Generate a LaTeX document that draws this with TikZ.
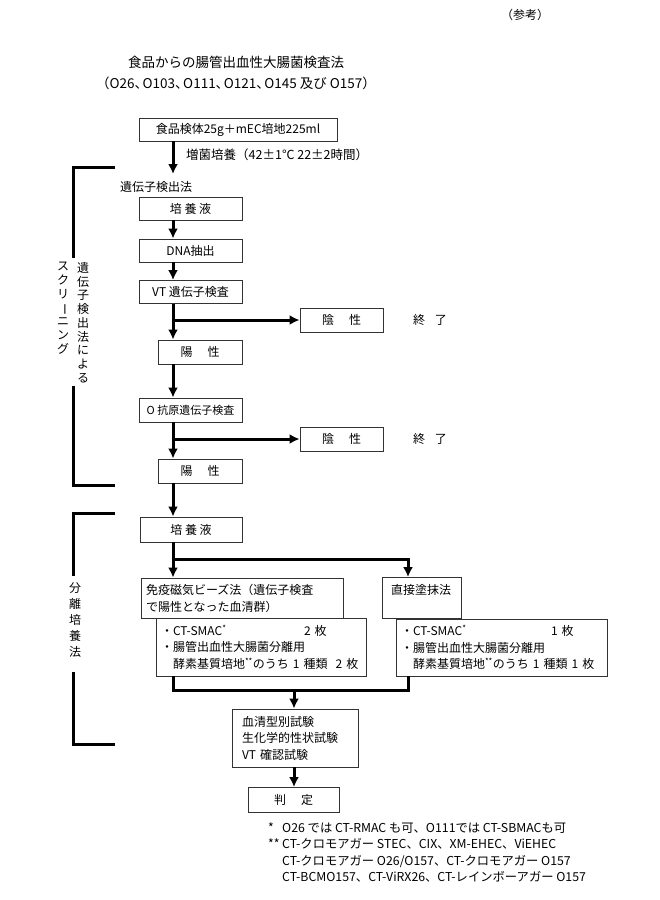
\documentclass[tikz,border=0pt]{standalone}
\usepackage{fontspec}
\setmainfont{Noto Sans CJK JP}
\usetikzlibrary{arrows.meta}

\begin{document}
\begin{tikzpicture}[x=1pt,y=-1pt,>={Latex[length=10pt,width=10pt]},
  box/.style={draw=black!80,line width=0.9pt,inner sep=0pt,font=\fontsize{12}{14}\selectfont},
  txt/.style={inner sep=0pt,font=\fontsize{12}{14}\selectfont},
  vtxt/.style={inner sep=0pt,anchor=north,align=center},
  flow/.style={line width=3pt},
  brk/.style={line width=3pt}]
\path[fill=white] (0,0) rectangle (660,900);
\node[txt] (ref) at (525,15) {（参考）};
\node[txt,align=center,font=\fontsize{13.5}{21}\selectfont] (title) at (236,73) {食品からの腸管出血性大腸菌検査法\\（O26、\kern-.4em O103、\kern-.4em O111、\kern-.4em O121、\kern-.4em O145 及び O157）};
\node[box,minimum width=198pt,minimum height=23pt] (food) at (238,129.5) {食品検体25g＋mEC培地225ml};
\coordinate (spine) at (173,174);
\draw[flow,->] (food.south -| spine) -- (spine);
\node[txt,anchor=west,font=\fontsize{12.5}{14}\selectfont] (incub) at (186,155) {増菌培養（42±1℃ 22±2時間）};
\node[txt,anchor=west] (gdet) at (120,187) {遺伝子検出法};
\node[box,minimum width=103pt,minimum height=23pt] (cult1) at (190.5,208.5) {培 養 液};
\node[box,minimum width=103pt,minimum height=23pt] (dna) at (190.5,250.5) {DNA抽出};
\node[box,minimum width=103pt,minimum height=23pt] (vt) at (190.5,292) {VT 遺伝子検査};
\node[box,minimum width=83pt,minimum height=24pt] (neg1) at (341.5,320) {陰\hspace{15pt}性};
\node[txt] (end1) at (430,320) {終\hspace{10pt}了};
\node[box,minimum width=84pt,minimum height=24pt] (pos1) at (200,352) {陽\hspace{15pt}性};
\node[box,minimum width=103pt,minimum height=24pt,font=\fontsize{11}{13}\selectfont] (ogene) at (190.5,410) {O 抗原遺伝子検査};
\node[box,minimum width=83pt,minimum height=24pt] (neg2) at (341.5,439) {陰\hspace{15pt}性};
\node[txt] (end2) at (430,439) {終\hspace{10pt}了};
\node[box,minimum width=84pt,minimum height=24pt] (pos2) at (200,471) {陽\hspace{15pt}性};
\draw[flow,->] (cult1.south -| spine) -- (dna.north -| spine);
\draw[flow,->] (dna.south -| spine) -- (vt.north -| spine);
\draw[flow,->] (vt.south -| spine) -- (pos1.north -| spine);
\draw[flow,->] (spine |- neg1) -- (neg1.west);
\draw[flow,->] (pos1.south -| spine) -- (ogene.north -| spine);
\draw[flow,->] (ogene.south -| spine) -- (pos2.north -| spine);
\draw[flow,->] (spine |- neg2) -- (neg2.west);
\draw[brk] (115,167) -- (73,167) -- (73,258);
\draw[brk] (73,386) -- (73,485) -- (115,485);
\node[vtxt,font=\fontsize{12}{13.75}\selectfont] (scrA) at (83,262) {遺\\伝\\子\\検\\出\\法\\に\\よ\\る};
\node[vtxt,font=\fontsize{12}{13.75}\selectfont] (scrB) at (63,262) {ス\\ク\\リ\\\rotatebox[origin=c]{-90}{ー}\\ニ\\ン\\グ};
\node[box,minimum width=102pt,minimum height=25pt] (cult2) at (191,529.5) {培 養 液};
\draw[flow,->] (pos2.south -| spine) -- (cult2.north -| spine);
\node[box,minimum width=202pt,minimum height=40pt,text width=192pt,align=left,font=\fontsize{12}{17}\selectfont] (ims) at (242,598) {免疫磁気ビーズ法（遺伝子検査\\で陽性となった血清群）};
\node[box,minimum width=79pt,minimum height=41pt,text width=61pt,align=left,font=\fontsize{12}{17}\selectfont] (direct) at (421.5,598) {直接塗抹法\\\mbox{}};
\node[box,minimum width=210pt,minimum height=58pt,text width=200pt,align=left,font=\fontsize{12}{16.5}\selectfont] (medL) at (261,647) {\makebox[143pt][l]{・CT-SMAC\textsuperscript{*}}2 枚\\・腸管出血性大腸菌分離用\\\hspace*{1em}酵素基質培地\textsuperscript{**}のうち 1 種類\ \ 2 枚};
\node[box,minimum width=211pt,minimum height=57pt,text width=201pt,align=left,font=\fontsize{12}{16.5}\selectfont] (medR) at (501.5,647.5) {\makebox[150pt][l]{・CT-SMAC\textsuperscript{*}}1 枚\\・腸管出血性大腸菌分離用\\\hspace*{1em}酵素基質培地\textsuperscript{**}のうち 1 種類 1 枚};
\coordinate (split) at (173,559);
\coordinate (rside) at (408,559);
\draw[flow,->] (cult2.south -| spine) -- (ims.north -| spine);
\draw[flow,->] (split) -- (rside) -- (rside |- direct.north);
\node[box,minimum width=126pt,minimum height=58pt,text width=106pt,align=left,font=\fontsize{12}{16.5}\selectfont] (tests) at (295,738) {血清型別試験\\生化学的性状試験\\VT 確認試験};
\node[box,minimum width=91pt,minimum height=25pt] (judge) at (293.5,800) {判\hspace{15pt}定};
\coordinate (join) at (294,690);
\draw[flow] (medL.south -| spine) |- (join) -| (medR.south -| rside);
\draw[flow,->] (join) -- (tests.north -| join);
\draw[flow,->] (tests.south -| join) -- (judge.north -| join);
\draw[brk] (115,513) -- (73,513) -- (73,576);
\draw[brk] (73,672) -- (73,744) -- (115,744);
\node[vtxt,font=\fontsize{12}{16}\selectfont] (sepA) at (75,582) {分\\離\\培\\養\\法};
\node[txt,anchor=north west,align=left,font=\fontsize{12.3}{16.5}\selectfont] (notes) at (268,822) {\makebox[14pt][l]{*}O26 では CT-RMAC も可、O111では CT-SBMACも可\\\makebox[14pt][l]{**}CT-クロモアガー STEC、CIX、XM-EHEC、ViEHEC\\\hspace*{14pt}CT-クロモアガー O26/O157、CT-クロモアガー O157\\\hspace*{14pt}CT-BCMO157、CT-ViRX26、CT-レインボーアガー O157};
\end{tikzpicture}
\end{document}
